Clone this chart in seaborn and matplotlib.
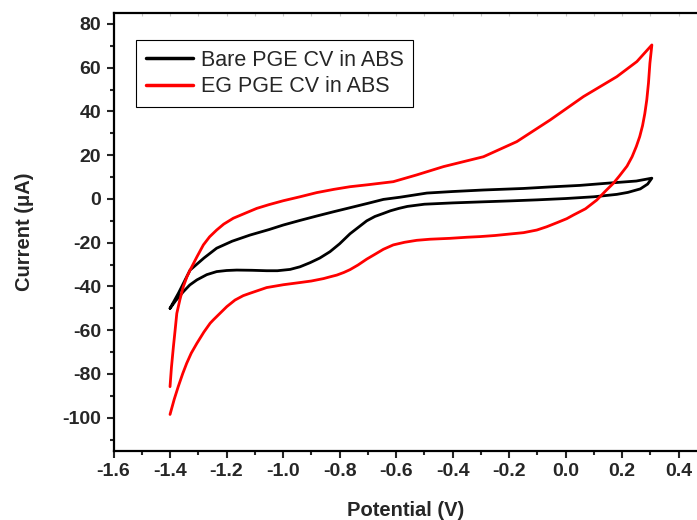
import numpy as np
import pandas as pd
import matplotlib
matplotlib.use("Agg")
import matplotlib.pyplot as plt
import seaborn as sns

# ---------------- data ----------------
bare_x = [-1.40, -1.37, -1.329, -1.28, -1.235, -1.18, -1.117, -1.05, -0.999, -0.94, -0.881,
          -0.82, -0.763, -0.70, -0.645, -0.586, -0.491, -0.40, -0.291, -0.15, -0.055, 0.05,
          0.157, 0.25, 0.305,
          0.29, 0.264, 0.22, 0.181, 0.10, 0.0, -0.10, -0.20, -0.291, -0.40, -0.50, -0.56,
          -0.59, -0.62, -0.645, -0.675, -0.704, -0.73, -0.763, -0.80, -0.834, -0.87, -0.904,
          -0.94, -0.975, -1.02, -1.058, -1.11, -1.164, -1.20, -1.235, -1.27, -1.305, -1.33,
          -1.353, -1.38, -1.40]
bare_y = [-50.0, -43.0, -32.5, -27.0, -22.5, -19.3, -16.5, -14.0, -11.9, -9.8, -7.8,
          -5.8, -4.0, -2.0, -0.2, 0.8, 2.7, 3.4, 4.1, 4.8, 5.5, 6.2,
          7.3, 8.2, 9.5,
          6.8, 4.6, 3.0, 2.1, 1.0, 0.2, -0.4, -0.9, -1.3, -1.8, -2.4, -3.4,
          -4.3, -5.4, -6.6, -8.0, -10.0, -12.6, -15.9, -20.5, -24.1, -27.0, -29.1,
          -31.0, -32.2, -32.8, -32.8, -32.6, -32.5, -32.7, -33.2, -34.6, -37.0, -39.3,
          -42.4, -46.5, -50.0]

eg_x = [-1.40, -1.395, -1.388, -1.382, -1.376, -1.365, -1.353, -1.34, -1.329, -1.305, -1.282,
        -1.26, -1.235, -1.21, -1.176, -1.13, -1.093, -1.05, -0.999, -0.94, -0.881, -0.82,
        -0.763, -0.70, -0.61, -0.527, -0.432, -0.291, -0.173, -0.055, 0.063, 0.181, 0.252,
        0.305,
        0.298, 0.293, 0.287, 0.280, 0.272, 0.262, 0.250, 0.235, 0.217, 0.19, 0.169, 0.14,
        0.110, 0.07, 0.028, 0.004, -0.03, -0.067, -0.102, -0.149, -0.196, -0.25, -0.303,
        -0.35, -0.41, -0.48, -0.527, -0.57, -0.61, -0.645, -0.675, -0.704, -0.735, -0.763,
        -0.785, -0.81, -0.834, -0.857, -0.90, -0.94, -0.999, -1.058, -1.117, -1.141, -1.17,
        -1.199, -1.225, -1.247, -1.258, -1.28, -1.305, -1.325, -1.341, -1.355, -1.371,
        -1.385, -1.40]
eg_y = [-85.8, -77.0, -67.5, -60.0, -52.3, -46.0, -40.1, -35.5, -32.5, -26.5, -21.0,
        -17.3, -14.2, -11.5, -8.8, -6.3, -4.3, -2.6, -0.8, 1.0, 2.9, 4.4,
        5.6, 6.5, 7.9, 11.0, 14.8, 19.3, 26.2, 36.1, 46.8, 55.9, 62.8,
        70.4,
        62.0, 53.0, 45.3, 39.0, 33.5, 28.5, 24.0, 19.3, 15.0, 10.5, 7.2, 3.5,
        -0.5, -4.5, -7.3, -9.0, -10.8, -12.7, -14.2, -15.4, -16.0, -16.7, -17.2,
        -17.5, -18.0, -18.4, -18.9, -19.8, -21.0, -23.0, -25.3, -27.5, -30.2, -32.3,
        -33.6, -34.8, -35.6, -36.4, -37.5, -38.2, -39.2, -40.5, -43.1, -44.2, -46.2,
        -49.2, -52.5, -55.3, -56.8, -60.8, -66.0, -70.5, -75.1, -79.8, -85.8,
        -91.5, -98.5]

labels = ["Bare PGE CV in ABS", "EG PGE CV in ABS"]
x_ticks = [-1.6, -1.4, -1.2, -1.0, -0.8, -0.6, -0.4, -0.2, 0.0, 0.2, 0.4]
y_ticks = [-100, -80, -60, -40, -20, 0, 20, 40, 60, 80]

# ---------------- plot ----------------
sns.set_style("ticks")
plt.rcParams["font.family"] = ["Liberation Sans", "DejaVu Sans"]

df = pd.concat([
    pd.DataFrame({"Potential": bare_x, "Current": bare_y, "Series": labels[0]}),
    pd.DataFrame({"Potential": eg_x, "Current": eg_y, "Series": labels[1]}),
], ignore_index=True)

fig = plt.figure(figsize=(6.97, 5.20), dpi=100)
ax = fig.add_axes([113.5 / 697, 1 - 451 / 520, (698.5 - 113.5) / 697, (451 - 13) / 520])

sns.lineplot(data=df, x="Potential", y="Current", hue="Series", sort=False,
             estimator=None, palette={labels[0]: "black", labels[1]: "#ff0000"},
             linewidth=2.0, ax=ax)

ax.set_xlim(-1.6, 0.47)
ax.set_ylim(-115.2, 85.0)
ax.set_xticks(x_ticks)
ax.set_xticklabels([f"{v:.1f}" for v in x_ticks])
ax.set_yticks(y_ticks)
ax.set_yticklabels([str(v) for v in y_ticks])
ax.set_xticks(np.arange(-1.5, 0.5, 0.2), minor=True)
ax.set_yticks(np.arange(-110, 90, 20), minor=True)

for lab in ax.get_xticklabels() + ax.get_yticklabels():
    lab.set_fontweight("bold")
ax.tick_params(axis="both", which="major", direction="out", length=5, width=1.5,
               labelsize=14, pad=4)
ax.tick_params(axis="both", which="minor", direction="out", length=3, width=1.5)

for side in ["left", "bottom", "top", "right"]:
    ax.spines[side].set_linewidth(1.6)
    ax.spines[side].set_color("black")
    ax.spines[side].set_visible(True)

# faint inner ticks along the top spine
sec = ax.secondary_xaxis("top")
sec.set_xticks(np.arange(-1.5, 0.5, 0.1))
sec.tick_params(direction="in", length=2, width=0.8, color="#c8c8c8", labeltop=False)
for s in sec.spines.values():
    s.set_visible(False)

ax.set_xlabel("Potential (V)", fontsize=14.5, fontweight="bold", labelpad=15)
ax.set_ylabel("Current (μA)", fontsize=14.5, fontweight="bold", labelpad=20)

handles, labs = ax.get_legend_handles_labels()
leg = ax.legend(handles, labs, loc="upper left", bbox_to_anchor=(136 / 697, 1 - 40 / 520),
                bbox_transform=fig.transFigure, borderaxespad=0, fontsize=15.5,
                frameon=True, fancybox=False, framealpha=1, edgecolor="black",
                handlelength=2.2, handletextpad=0.35, borderpad=0.45, labelspacing=0.25)
leg.get_frame().set_linewidth(0.8)
for line in leg.get_lines():
    line.set_linewidth(2.5)

fig.savefig("out.png", dpi=100)
